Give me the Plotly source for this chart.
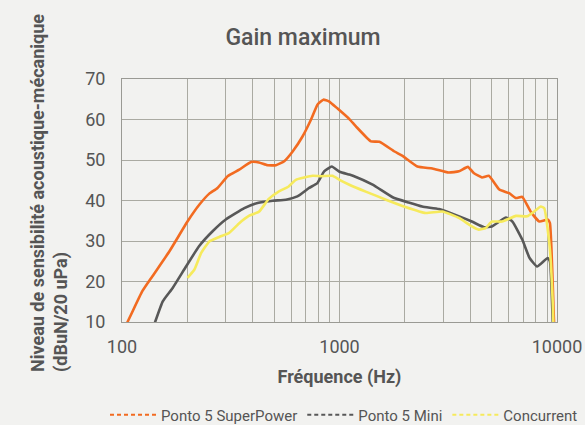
import plotly.graph_objects as go

# ---- data ----
sp_freq = [102, 106, 124, 138, 165, 200, 227, 252, 275, 306, 346, 392, 426, 467, 510, 557, 609, 676, 740,
           793, 843, 894, 980, 1110, 1190, 1395, 1525, 1790, 1940, 2280, 2675, 3175, 3540, 3890, 4140,
           4520, 4860, 5430, 6030, 6480, 6920, 7560, 8290, 9060, 9280, 9690, 9760]
sp_db = [8.5, 10, 17.6, 21.3, 27.4, 34.8, 39, 41.7, 43.1, 46, 47.6, 49.5, 49.4, 48.7, 48.7, 49.7, 52.1, 55.8, 60,
         63.7, 64.9, 64.5, 62.7, 60.1, 58.3, 54.6, 54.5, 52.1, 51.1, 48.4, 47.9, 46.9, 47.2, 48.3, 46.8,
         45.7, 46.1, 42.7, 41.8, 40.6, 40.9, 37.3, 34.8, 35.3, 34.4, 10, 8]

mini_freq = [140, 142, 154, 171, 197, 226, 261, 300, 365, 420, 493, 567, 640, 725, 791, 850, 922, 1000, 1110,
             1153, 1420, 1755, 2080, 2400, 2860, 3320, 4060, 4620, 5020, 5830, 6240, 6930, 7480, 8100,
             9060, 9280, 9560, 9600]
mini_db = [9, 10, 15.1, 18.4, 23.7, 28.7, 32.4, 35.3, 38.1, 39.4, 39.95, 40.2, 41, 43.1, 44.3, 47.2, 48.4, 47.1, 46.4,
           46.1, 43.9, 40.8, 39.5, 38.5, 37.9, 36.7, 34.8, 33.4, 33.6, 35.8, 34.8, 30.3, 25.8, 23.7,
           25.8, 25, 10, 8]

conc_freq = [200, 215, 231, 252, 280, 311, 346, 383, 426, 473, 525, 582, 630, 752, 821, 928, 1000, 1110, 1320,
             1635, 2010, 2490, 2970, 3540, 4060, 4360, 4700, 5020, 5600, 6480, 7300, 7860, 8420, 8740,
             9250, 9560, 9620]
conc_db = [20.9, 22.9, 27, 29.9, 31, 32, 34.4, 36.2, 37.2, 40.4, 42.2, 43.4, 45.1, 46.1, 46, 46.1, 45.1, 43.9, 42.2,
           40.2, 38.4, 36.9, 37.3, 35.7, 33.6, 32.8, 33.2, 34.8, 34.8, 36.2, 36.1, 37.3, 38.5, 38.1,
           28.7, 14.7, 9]

series_names = ["Ponto 5 SuperPower", "Ponto 5 Mini", "Concurrent"]
series_colors = ["#f26b21", "#585858", "#f6ea5c"]

x_major = [100, 1000, 10000]
x_grid = [100, 200, 300, 400, 500, 600, 700, 800, 900,
          1000, 2000, 3000, 4000, 5000, 6000, 7000, 8000, 9000, 10000]
y_ticks = [10, 20, 30, 40, 50, 60, 70]

title_text = "Gain maximum"
x_title = "Fréquence (Hz)"
y_title = "Niveau de sensibilité acoustique-mécanique<br>(dBuN/20 uPa)"

BG = "#f2f2f0"
GRID = "#aaaaa2"
TXT = "#555555"
FONT = "Roboto, Noto Sans, sans-serif"

fig = go.Figure()
for xs, ys, name, col in zip([sp_freq, mini_freq, conc_freq], [sp_db, mini_db, conc_db],
                             series_names, series_colors):
    fig.add_trace(go.Scatter(x=xs, y=ys, mode="lines", name=name, showlegend=False,
                             line=dict(color=col, width=2.6, shape="spline", smoothing=0.4),
                             hoverinfo="skip"))
# legend entries (dashed samples as in the reference)
for name, col in zip(series_names, series_colors):
    fig.add_trace(go.Scatter(x=[None], y=[None], mode="lines", name=name,
                             line=dict(color=col, width=2.2, dash="4px,3px")))

fig.update_layout(
    width=585, height=425,
    paper_bgcolor=BG, plot_bgcolor=BG,
    margin=dict(l=122, r=28, t=79, b=103, autoexpand=False),
    font=dict(family=FONT, color=TXT),
    title=dict(text=title_text, x=303 / 585, xanchor="center", y=1 - 37 / 425, yanchor="middle",
               font=dict(size=23, family=FONT, color=TXT, weight=500)),
    showlegend=True,
    legend=dict(orientation="h", x=(105 - 122) / 435, xanchor="left",
                y=-(415 - 322) / 243, yanchor="middle",
                font=dict(size=15, family=FONT, color=TXT), bgcolor="rgba(0,0,0,0)",
                itemwidth=46, tracegroupgap=0),
)
fig.update_xaxes(type="log", range=[2, 4], tickmode="array", tickvals=x_grid,
                 ticktext=[str(v) if v in x_major else "" for v in x_grid],
                 showgrid=True, gridcolor=GRID, gridwidth=1, automargin=False,
                 showline=True, linecolor="#9a9a94", linewidth=1, mirror=True,
                 ticks="", tickfont=dict(size=18, color=TXT), ticklabelstandoff=8,
                 title=dict(text=x_title, font=dict(size=18, color=TXT, weight="bold"), standoff=14),
                 zeroline=False)
fig.update_yaxes(range=[10, 70], tickmode="array", tickvals=y_ticks,
                 showgrid=True, gridcolor=GRID, gridwidth=1, automargin=False,
                 showline=True, linecolor="#9a9a94", linewidth=1, mirror=True,
                 ticks="", tickfont=dict(size=18, color=TXT), ticklabelstandoff=12,
                 zeroline=False)
fig.add_annotation(text=y_title, textangle=-90, align="left", showarrow=False,
                   xref="paper", yref="paper", x=(49 - 122) / 435, y=(322 - 193) / 243,
                   xanchor="center", yanchor="middle",
                   font=dict(size=18, family=FONT, color=TXT, weight="bold"))

fig.write_html("out.html", config={"displayModeBar": False},
               post_script="document.body.style.margin='0';document.body.style.background='#f2f2f0';")
